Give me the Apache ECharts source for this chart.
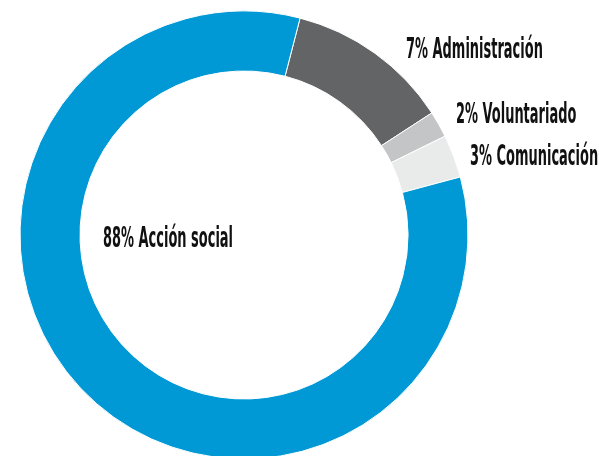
<!DOCTYPE html>
<html>
<head>
<meta charset="utf-8">
<script src="https://cdn.jsdelivr.net/npm/echarts@6/dist/echarts.min.js"></script>
<style>
  html, body { margin: 0; padding: 0; background: #fff; }
  #chart { width: 599px; height: 456px; }
</style>
</head>
<body>
<div id="chart"></div>
<script>
// slices clockwise from the top, values
var names = ['Administración', 'Voluntariado', 'Comunicación', 'Acción social']
var values = [11.8, 1.9, 3.1, 83.2]
// percentages printed on the labels
var pctLabels = ['7%', '2%', '3%', '88%']
var colors = ['#636466', '#c4c5c7', '#e9eaea', '#0099d5']

// where each label sits (left edge, middle)
var labelPos = [[406, 51], [456, 116], [470, 158], [103, 240]]

var chart = echarts.init(document.getElementById('chart'))

var seriesData = names.map(function (n, i) {
  return { name: n, value: values[i], itemStyle: { color: colors[i] } }
})

var labels = names.map(function (n, i) {
  return {
    type: 'text',
    x: labelPos[i][0],
    y: labelPos[i][1],
    scaleX: 0.515,
    style: {
      text: pctLabels[i] + ' ' + n,
      font: 'bold 28px "Liberation Sans Narrow", "DejaVu Sans Condensed", sans-serif',
      fill: '#111',
      textAlign: 'left',
      textVerticalAlign: 'middle',
      verticalAlign: 'middle'
    }
  }
})

chart.setOption({
  animation: false,
  series: [{
    type: 'pie',
    center: [244, 235],
    radius: [164, 224],
    startAngle: 75.5,
    clockwise: true,
    silent: true,
    label: { show: false },
    labelLine: { show: false },
    itemStyle: { borderColor: '#fff', borderWidth: 1 },
    data: seriesData
  }],
  graphic: labels
})
</script>
</body>
</html>
